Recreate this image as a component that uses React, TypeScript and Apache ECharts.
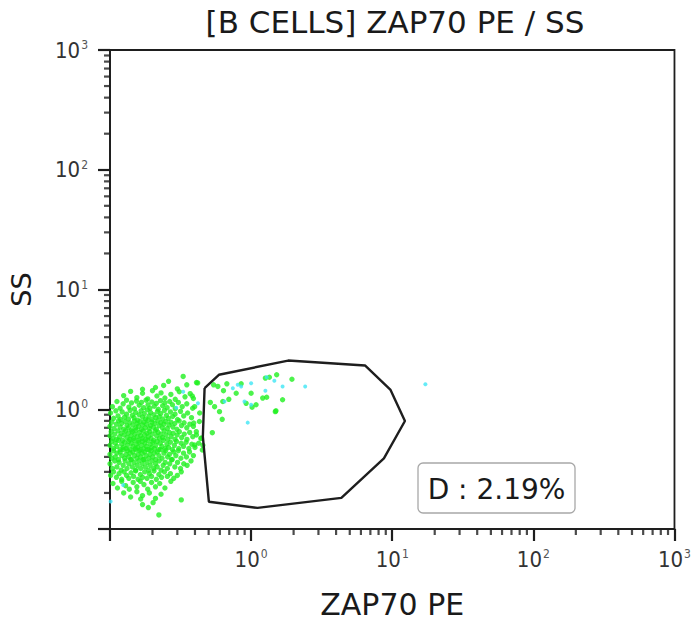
import { useEffect, useRef } from "react";
import * as echarts from "echarts";

const TITLE = "[B CELLS] ZAP70 PE / SS";
const X_NAME = "ZAP70 PE";
const Y_NAME = "SS";
const GATE_LABEL = "D : 2.19%";

const X_MIN = 0.1;
const X_MAX = 1000;
const Y_MIN = 0.1;
const Y_MAX = 1000;

// decade (major) and 2..9 (minor) tick values of the log axes
const LOG_MAJOR = [0.1, 1, 10, 100, 1000];
const LOG_MINOR = [
  0.2, 0.3, 0.4, 0.5, 0.6, 0.7, 0.8, 0.9,
  2, 3, 4, 5, 6, 7, 8, 9,
  20, 30, 40, 50, 60, 70, 80, 90,
  200, 300, 400, 500, 600, 700, 800, 900,
];

// gate D polygon vertices (ZAP70 PE, SS)
const GATE_X = [0.468, 0.591, 1.83, 6.41, 9.73, 12.3, 8.73, 4.36, 1.11, 0.502, 0.455, 0.468];
const GATE_Y = [1.5, 1.94, 2.55, 2.32, 1.45, 0.798, 0.389, 0.182, 0.15, 0.169, 0.59, 1.5];

// main green population
const GREEN_CORE: [number, number][] = [
  [0.21, 1.52], [0.26, 1.71], [0.3, 1.48], [0.35, 1.6], [0.41, 1.67], [0.17, 1.47], [0.33, 1.88], [0.24, 1.58],
  [0.125, 1.3], [0.14, 1.41], [0.155, 1.25], [0.17, 1.36], [0.185, 1.22], [0.2, 1.43], [0.215, 1.29], [0.23, 1.37],
  [0.245, 1.24], [0.27, 1.33], [0.29, 1.21], [0.31, 1.4], [0.34, 1.27], [0.37, 1.35], [0.39, 1.23],
  [0.104, 1.05], [0.112, 1.16], [0.118, 1.02], [0.124, 1.11], [0.131, 1.19], [0.136, 1.04], [0.142, 1.13], [0.149, 1.01],
  [0.154, 1.17], [0.161, 1.08], [0.167, 1.14], [0.173, 1.03], [0.18, 1.19], [0.186, 1.09], [0.192, 1.02], [0.198, 1.15],
  [0.206, 1.06], [0.213, 1.12], [0.22, 1.0], [0.228, 1.18], [0.236, 1.07], [0.245, 1.13], [0.254, 1.03], [0.265, 1.16],
  [0.277, 1.09], [0.29, 1.01], [0.305, 1.14], [0.325, 1.05], [0.35, 1.11], [0.385, 1.02],
  [0.101, 0.93], [0.106, 0.84], [0.11, 0.97], [0.114, 0.88], [0.119, 0.82], [0.122, 0.95], [0.127, 0.86], [0.131, 0.91],
  [0.135, 0.83], [0.139, 0.98], [0.144, 0.89], [0.148, 0.85], [0.152, 0.94], [0.157, 0.81], [0.161, 0.9], [0.166, 0.97],
  [0.17, 0.86], [0.175, 0.92], [0.179, 0.83], [0.184, 0.99], [0.189, 0.88], [0.194, 0.94], [0.199, 0.82], [0.205, 0.9],
  [0.211, 0.85], [0.217, 0.96], [0.223, 0.87], [0.229, 0.92], [0.236, 0.83], [0.243, 0.98], [0.251, 0.89], [0.259, 0.84],
  [0.268, 0.95], [0.278, 0.87], [0.289, 0.91], [0.301, 0.82], [0.316, 0.96], [0.333, 0.88], [0.355, 0.93], [0.378, 0.85],
  [0.1, 0.72], [0.103, 0.78], [0.107, 0.69], [0.111, 0.75], [0.115, 0.8], [0.118, 0.71], [0.121, 0.76], [0.125, 0.68],
  [0.128, 0.79], [0.132, 0.73], [0.135, 0.7], [0.138, 0.77], [0.142, 0.67], [0.145, 0.74], [0.149, 0.8], [0.152, 0.7],
  [0.156, 0.76], [0.159, 0.72], [0.163, 0.79], [0.167, 0.68], [0.17, 0.74], [0.174, 0.78], [0.178, 0.7], [0.182, 0.75],
  [0.186, 0.81], [0.19, 0.69], [0.194, 0.73], [0.198, 0.78], [0.203, 0.71], [0.208, 0.76], [0.213, 0.68], [0.218, 0.8],
  [0.223, 0.73], [0.229, 0.77], [0.235, 0.7], [0.241, 0.75], [0.248, 0.79], [0.255, 0.69], [0.262, 0.74], [0.27, 0.78],
  [0.279, 0.71], [0.288, 0.76], [0.298, 0.68], [0.309, 0.8], [0.321, 0.73], [0.335, 0.77], [0.35, 0.7], [0.368, 0.75],
  [0.39, 0.72], [0.43, 0.79],
  [0.1, 0.6], [0.102, 0.65], [0.105, 0.57], [0.108, 0.62], [0.111, 0.56], [0.114, 0.66], [0.117, 0.59], [0.12, 0.63],
  [0.123, 0.55], [0.126, 0.61], [0.129, 0.66], [0.132, 0.58], [0.135, 0.63], [0.138, 0.56], [0.141, 0.6], [0.144, 0.65],
  [0.147, 0.57], [0.15, 0.62], [0.153, 0.67], [0.156, 0.59], [0.159, 0.55], [0.162, 0.64], [0.165, 0.6], [0.169, 0.57],
  [0.172, 0.66], [0.176, 0.61], [0.179, 0.56], [0.183, 0.63], [0.187, 0.59], [0.191, 0.65], [0.195, 0.57], [0.199, 0.62],
  [0.204, 0.55], [0.209, 0.66], [0.214, 0.6], [0.219, 0.64], [0.224, 0.57], [0.23, 0.62], [0.236, 0.58], [0.242, 0.66],
  [0.249, 0.61], [0.256, 0.56], [0.263, 0.64], [0.271, 0.59], [0.28, 0.63], [0.289, 0.56], [0.299, 0.61], [0.31, 0.65],
  [0.322, 0.58], [0.336, 0.62], [0.351, 0.56], [0.367, 0.64], [0.386, 0.59], [0.41, 0.61], [0.44, 0.57],
  [0.1, 0.5], [0.103, 0.54], [0.106, 0.47], [0.109, 0.52], [0.112, 0.49], [0.115, 0.55], [0.118, 0.46], [0.121, 0.51],
  [0.124, 0.48], [0.127, 0.53], [0.13, 0.47], [0.133, 0.5], [0.136, 0.54], [0.139, 0.46], [0.142, 0.52], [0.145, 0.49],
  [0.148, 0.55], [0.151, 0.47], [0.154, 0.51], [0.157, 0.48], [0.16, 0.53], [0.164, 0.46], [0.167, 0.5], [0.17, 0.54],
  [0.174, 0.47], [0.177, 0.52], [0.181, 0.49], [0.185, 0.55], [0.189, 0.46], [0.193, 0.51], [0.197, 0.48], [0.201, 0.53],
  [0.206, 0.47], [0.211, 0.5], [0.216, 0.54], [0.221, 0.46], [0.227, 0.52], [0.233, 0.49], [0.239, 0.55], [0.246, 0.47],
  [0.253, 0.51], [0.26, 0.48], [0.268, 0.53], [0.277, 0.46], [0.286, 0.5], [0.296, 0.54], [0.307, 0.47], [0.319, 0.52],
  [0.332, 0.49], [0.346, 0.53], [0.362, 0.47], [0.38, 0.51], [0.4, 0.48], [0.425, 0.52], [0.455, 0.5],
  [0.1, 0.42], [0.103, 0.39], [0.106, 0.45], [0.109, 0.4], [0.112, 0.43], [0.115, 0.38], [0.118, 0.44], [0.121, 0.41],
  [0.124, 0.46], [0.127, 0.39], [0.13, 0.42], [0.133, 0.45], [0.136, 0.4], [0.139, 0.43], [0.142, 0.38], [0.145, 0.44],
  [0.149, 0.41], [0.152, 0.46], [0.155, 0.39], [0.158, 0.42], [0.162, 0.45], [0.165, 0.4], [0.169, 0.43], [0.172, 0.38],
  [0.176, 0.44], [0.18, 0.41], [0.184, 0.46], [0.188, 0.39], [0.192, 0.42], [0.196, 0.45], [0.201, 0.4], [0.206, 0.43],
  [0.211, 0.38], [0.216, 0.44], [0.222, 0.41], [0.228, 0.46], [0.234, 0.39], [0.241, 0.43], [0.248, 0.45], [0.256, 0.4],
  [0.264, 0.42], [0.273, 0.38], [0.283, 0.44], [0.293, 0.41], [0.305, 0.45], [0.318, 0.39], [0.332, 0.43], [0.348, 0.4],
  [0.366, 0.44], [0.39, 0.41],
  [0.1, 0.35], [0.104, 0.32], [0.108, 0.37], [0.112, 0.33], [0.116, 0.36], [0.12, 0.31], [0.124, 0.34], [0.128, 0.37],
  [0.132, 0.32], [0.136, 0.35], [0.14, 0.38], [0.144, 0.33], [0.148, 0.36], [0.152, 0.31], [0.156, 0.34], [0.16, 0.37],
  [0.165, 0.32], [0.169, 0.35], [0.174, 0.38], [0.178, 0.33], [0.183, 0.36], [0.188, 0.31], [0.193, 0.34], [0.198, 0.37],
  [0.204, 0.32], [0.21, 0.35], [0.216, 0.33], [0.223, 0.37], [0.23, 0.31], [0.238, 0.34], [0.246, 0.36], [0.255, 0.32],
  [0.265, 0.35], [0.276, 0.38], [0.288, 0.33], [0.301, 0.36], [0.316, 0.32], [0.333, 0.35], [0.352, 0.34], [0.375, 0.37],
  [0.101, 0.28], [0.106, 0.3], [0.111, 0.27], [0.116, 0.29], [0.121, 0.26], [0.126, 0.3], [0.131, 0.28], [0.136, 0.265],
  [0.141, 0.295], [0.147, 0.275], [0.152, 0.305], [0.158, 0.26], [0.164, 0.285], [0.17, 0.27], [0.176, 0.3], [0.183, 0.265],
  [0.19, 0.29], [0.197, 0.275], [0.205, 0.305], [0.213, 0.26], [0.222, 0.285], [0.232, 0.27], [0.243, 0.3], [0.255, 0.275],
  [0.268, 0.29], [0.283, 0.265], [0.3, 0.28], [0.32, 0.3],
  [0.105, 0.24], [0.113, 0.22], [0.121, 0.25], [0.129, 0.23], [0.137, 0.215], [0.146, 0.245], [0.155, 0.225], [0.164, 0.25],
  [0.174, 0.235], [0.185, 0.215], [0.197, 0.245], [0.21, 0.225], [0.225, 0.24], [0.245, 0.22], [0.27, 0.25],
  [0.125, 0.2], [0.14, 0.185], [0.155, 0.205], [0.17, 0.19], [0.19, 0.2], [0.21, 0.18], [0.23, 0.195], [0.165, 0.178],
  [0.222, 0.131], [0.187, 0.151], [0.202, 0.166], [0.32, 0.175], [0.17, 0.16],
];

// sparse green events drifting toward the gate
const GREEN_TAIL: [number, number][] = [
  [0.383, 1.29], [0.418, 1.66], [0.398, 1.05], [0.432, 0.931], [0.392, 0.767], [0.409, 0.65], [0.444, 0.575],
  [0.398, 0.503], [0.451, 0.457], [0.531, 0.637], [0.542, 1.6], [0.581, 1.55], [0.637, 1.43], [0.673, 1.63],
  [0.695, 1.21], [0.63, 1.16], [0.597, 0.955], [0.551, 1.05], [0.514, 1.14], [0.624, 0.824], [0.784, 1.36],
  [0.85, 1.63], [0.922, 1.12], [1.0, 1.36], [1.016, 1.04], [1.084, 1.09], [1.208, 1.24], [1.262, 1.82],
  [1.347, 1.85], [1.517, 1.94], [1.484, 0.955], [1.671, 1.2], [1.947, 1.78], [1.289, 1.26], [1.5, 0.97],
];

const CYAN_EVENTS: [number, number][] = [
  [0.42, 1.12], [0.742, 1.5], [0.804, 1.6], [0.85, 1.55], [1.0, 1.65], [0.648, 1.16], [1.262, 1.43],
  [0.897, 1.16], [1.0, 1.09], [0.946, 0.773], [1.671, 1.55], [2.416, 1.55], [1.289, 1.85], [1.461, 1.73],
  [17.18, 1.62], [0.124, 0.233], [0.295, 1.03], [0.33, 1.4], [0.101, 0.17],
];

const GREEN = "#1ff01f";
const CYAN = "#3fe6f5";
const INK = "#1e1e1e";
const FONT = "'DejaVu Sans', 'Noto Sans', sans-serif";
const TICK_FONT = "'Liberation Sans Narrow', 'DejaVu Sans Condensed', 'Liberation Sans', sans-serif";

function powLabel(v: number): string {
  const e = Math.round(Math.log10(v));
  return e < 0 ? "" : `{b|10}{s|${e}}`;
}

const tickRich = {
  b: { fontSize: 22, fontFamily: TICK_FONT, color: "#333", lineHeight: 22 },
  s: { fontSize: 12, fontFamily: TICK_FONT, color: "#555", verticalAlign: "top" as const, padding: [0, 0, 0, 1] },
};

// tick marks as scatter symbols sitting on the axes, placed by the log scales
function tickSeries(dir: "x" | "y", values: number[], len: number) {
  return {
    type: "scatter" as const,
    clip: false,
    symbol: "rect",
    symbolSize: dir === "x" ? [2.2, len] : [len, 2.2],
    symbolOffset: dir === "x" ? [0, len / 2] : [-len / 2, 0],
    itemStyle: { color: INK },
    data: dir === "x" ? values.map((v) => [v, Y_MIN]) : values.map((v) => [X_MIN, v]),
  };
}

export default function App() {
  const elRef = useRef<HTMLDivElement>(null);

  useEffect(() => {
    const el = elRef.current;
    if (!el) return;
    const chart = echarts.init(el, undefined, { renderer: "svg" });

    chart.setOption({
      animation: false,
      textStyle: { fontFamily: FONT },
      grid: { left: 110, right: 17, top: 50, bottom: 97, show: true, borderColor: INK, borderWidth: 1.8 },
      graphic: [
        {
          type: "text",
          x: 395,
          y: 22,
          style: { text: TITLE, fontSize: 31, fontFamily: FONT, fill: "#1a1a1a", textAlign: "center", textVerticalAlign: "middle" },
        },
        {
          type: "rect",
          shape: { x: 418, y: 463, width: 157, height: 50, r: 5 },
          style: { fill: "#fff", stroke: "#a8a8a8", lineWidth: 1.3 },
          z: 10,
        },
        {
          type: "text",
          x: 496.5,
          y: 489,
          z: 11,
          style: { text: GATE_LABEL, fontSize: 28, fontFamily: FONT, fill: "#1a1a1a", textAlign: "center", textVerticalAlign: "middle" },
        },
      ],
      xAxis: {
        type: "log",
        min: X_MIN,
        max: X_MAX,
        name: X_NAME,
        nameLocation: "middle",
        nameGap: 60,
        nameTextStyle: { fontSize: 30, color: "#1a1a1a", fontFamily: FONT },
        axisLine: { show: true, lineStyle: { color: INK, width: 1.8 } },
        axisTick: { show: true, length: 12, lineStyle: { color: INK, width: 2.2 } },
        axisLabel: { show: true, formatter: powLabel, rich: tickRich, margin: 19 },
        splitLine: { show: false },
      },
      yAxis: {
        type: "log",
        min: Y_MIN,
        max: Y_MAX,
        name: Y_NAME,
        nameLocation: "middle",
        nameRotate: 90,
        nameGap: 75,
        nameTextStyle: { fontSize: 27, color: "#1a1a1a", fontFamily: FONT },
        axisLine: { show: true, lineStyle: { color: INK, width: 1.8 } },
        axisTick: { show: true, length: 12, lineStyle: { color: INK, width: 2.2 } },
        axisLabel: { show: true, formatter: powLabel, rich: tickRich, margin: 22 },
        splitLine: { show: false },
      },
      series: [
        tickSeries("x", LOG_MINOR, 6),
        tickSeries("y", LOG_MINOR, 6),
        {
          type: "scatter",
          data: [...GREEN_CORE, ...GREEN_TAIL],
          symbol: "circle",
          symbolSize: 5.4,
          itemStyle: { color: GREEN },
        },
        {
          type: "scatter",
          data: CYAN_EVENTS,
          symbol: "circle",
          symbolSize: 4,
          itemStyle: { color: CYAN },
        },
        {
          type: "line",
          data: GATE_X.map((x, i) => [x, GATE_Y[i]]),
          showSymbol: false,
          symbol: "none",
          lineStyle: { color: INK, width: 2.4 },
          z: 5,
        },
      ],
    });

    return () => chart.dispose();
  }, []);

  return <div ref={elRef} style={{ position: "fixed", left: 0, top: 0, width: 694, height: 626, background: "#fff" }} />;
}
